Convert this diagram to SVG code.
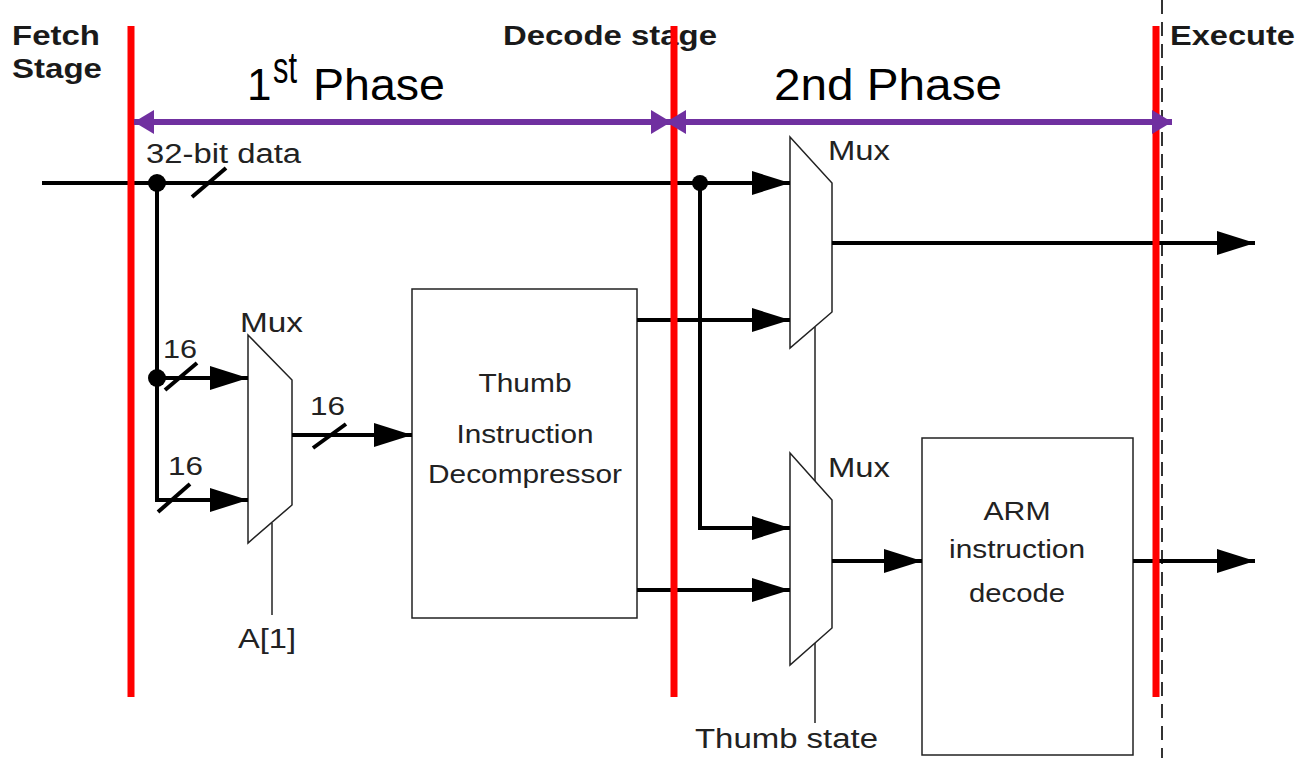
<svg xmlns="http://www.w3.org/2000/svg" width="1298" height="758" viewBox="0 0 1298 758">
<style>
.t{font-family:"Liberation Sans",Arial,sans-serif;fill:#222}
.h{font-family:"Liberation Sans",Arial,sans-serif;font-weight:bold;fill:#1a1a1a;font-size:27px}
.ph{font-family:"Liberation Sans",Arial,sans-serif;fill:#000;font-size:44px}
.w{stroke:#000;stroke-width:4;fill:none}
.thin{stroke:#222;stroke-width:1.5;fill:#fff}
.red{stroke:#ff0000;stroke-width:7}
.pur{stroke:#7030a0;stroke-width:6}
</style>
<defs>
<marker id="ah" markerUnits="userSpaceOnUse" markerWidth="38" markerHeight="24" refX="38" refY="12" orient="auto">
<path d="M0,0 L38,12 L0,24 z" fill="#000"/>
</marker>
<marker id="ph" markerUnits="userSpaceOnUse" markerWidth="20" markerHeight="24" refX="20" refY="12" orient="auto-start-reverse">
<path d="M0,0 L20,12 L0,24 z" fill="#7030a0"/>
</marker>
</defs>

<line x1="1162" y1="0" x2="1162" y2="758" stroke="#333" stroke-width="2" stroke-dasharray="14,8"/>

<g id="labels">
<text class="h" x="12" y="45" textLength="88" lengthAdjust="spacingAndGlyphs">Fetch</text>
<text class="h" x="12" y="78" textLength="90" lengthAdjust="spacingAndGlyphs">Stage</text>
<text class="h" x="503" y="45" textLength="214" lengthAdjust="spacingAndGlyphs">Decode stage</text>
<text class="h" x="1170" y="45" textLength="125" lengthAdjust="spacingAndGlyphs">Execute</text>
<text class="t" x="146" y="163" font-size="27" textLength="155" lengthAdjust="spacingAndGlyphs">32-bit data</text>
<text class="t" x="163" y="358" font-size="26" textLength="34" lengthAdjust="spacingAndGlyphs">16</text>
<text class="t" x="168" y="475" font-size="26" textLength="35" lengthAdjust="spacingAndGlyphs">16</text>
<text class="t" x="310" y="415" font-size="26" textLength="35" lengthAdjust="spacingAndGlyphs">16</text>
<text class="t" x="238" y="648" font-size="28" textLength="58" lengthAdjust="spacingAndGlyphs">A[1]</text>
<text class="t" x="695" y="748" font-size="27" textLength="183" lengthAdjust="spacingAndGlyphs">Thumb state</text>
</g>

<g id="phase1">
<text class="ph" x="247" y="100">1</text>
<text class="ph" x="273" y="83" font-size="22" textLength="24" lengthAdjust="spacingAndGlyphs">st</text>
<text class="ph" x="313" y="100" textLength="132" lengthAdjust="spacingAndGlyphs">Phase</text>
</g>
<g id="phase2">
<text class="ph" x="774" y="100" textLength="228" lengthAdjust="spacingAndGlyphs">2nd Phase</text>
</g>

<g id="mux1">
<polygon class="thin" points="248,335 292,380 292,505 248,543"/>
<text class="t" x="240" y="332" font-size="28" textLength="63" lengthAdjust="spacingAndGlyphs">Mux</text>
<line x1="272" y1="523" x2="272" y2="615" stroke="#222" stroke-width="1.5"/>
</g>

<g id="thumb_decompressor">
<rect class="thin" x="412" y="289" width="225" height="329"/>
<text class="t" x="525" y="392" font-size="26" text-anchor="middle" textLength="93" lengthAdjust="spacingAndGlyphs">Thumb</text>
<text class="t" x="525" y="443" font-size="26" text-anchor="middle" textLength="137" lengthAdjust="spacingAndGlyphs">Instruction</text>
<text class="t" x="525" y="483" font-size="26" text-anchor="middle" textLength="194" lengthAdjust="spacingAndGlyphs">Decompressor</text>
</g>

<g id="mux2">
<polygon class="thin" points="790,137 832,183 832,312 790,348"/>
<text class="t" x="828" y="160" font-size="28" textLength="62" lengthAdjust="spacingAndGlyphs">Mux</text>
</g>

<g id="mux3">
<polygon class="thin" points="790,453 832,500 832,628 790,665"/>
<text class="t" x="828" y="477" font-size="28" textLength="62" lengthAdjust="spacingAndGlyphs">Mux</text>
</g>

<g id="arm_decode">
<rect class="thin" x="922" y="438" width="211" height="317"/>
<text class="t" x="1017" y="520" font-size="26" text-anchor="middle" textLength="67" lengthAdjust="spacingAndGlyphs">ARM</text>
<text class="t" x="1017" y="558" font-size="26" text-anchor="middle" textLength="136" lengthAdjust="spacingAndGlyphs">instruction</text>
<text class="t" x="1017" y="602" font-size="26" text-anchor="middle" textLength="96" lengthAdjust="spacingAndGlyphs">decode</text>
</g>

<g id="connectors">
<line class="w" x1="42" y1="183" x2="790" y2="183" marker-end="url(#ah)"/>
<circle cx="157" cy="183" r="9" fill="#000"/>
<line class="w" x1="192" y1="197" x2="226" y2="168"/>
<polyline class="w" points="157,183 157,500 248,500" stroke-width="5" marker-end="url(#ah)"/>
<line class="w" x1="157" y1="378" x2="248" y2="378" marker-end="url(#ah)"/>
<circle cx="157" cy="378" r="9" fill="#000"/>
<line class="w" x1="165" y1="390" x2="197" y2="363"/>
<line class="w" x1="158" y1="512" x2="190" y2="484"/>
<line class="w" x1="292" y1="435" x2="412" y2="435" marker-end="url(#ah)"/>
<line class="w" x1="313" y1="448" x2="346" y2="424"/>
<line class="w" x1="637" y1="320" x2="790" y2="320" marker-end="url(#ah)"/>
<line class="w" x1="637" y1="590" x2="790" y2="590" marker-end="url(#ah)"/>
<circle cx="700" cy="183" r="8" fill="#000"/>
<polyline class="w" points="700,183 700,528 790,528" marker-end="url(#ah)"/>
<line class="w" x1="832" y1="243" x2="1255" y2="243" marker-end="url(#ah)"/>
<line x1="815" y1="327" x2="815" y2="481" stroke="#222" stroke-width="1.5"/>
<line x1="815" y1="643" x2="815" y2="723" stroke="#222" stroke-width="1.5"/>
<line class="w" x1="832" y1="561" x2="922" y2="561" marker-end="url(#ah)"/>
<line class="w" x1="1133" y1="561" x2="1255" y2="561" marker-end="url(#ah)"/>
</g>

<g id="stage_boundaries">
<line class="red" x1="131" y1="26" x2="131" y2="697"/>
<line class="red" x1="674" y1="26" x2="674" y2="697"/>
<line class="red" x1="1156" y1="26" x2="1156" y2="697"/>
</g>

<g id="phase_arrows">
<line class="pur" x1="134" y1="122" x2="671" y2="122" marker-start="url(#ph)" marker-end="url(#ph)"/>
<line class="pur" x1="666" y1="122" x2="1172" y2="122" marker-start="url(#ph)" marker-end="url(#ph)"/>
</g>
</svg>
